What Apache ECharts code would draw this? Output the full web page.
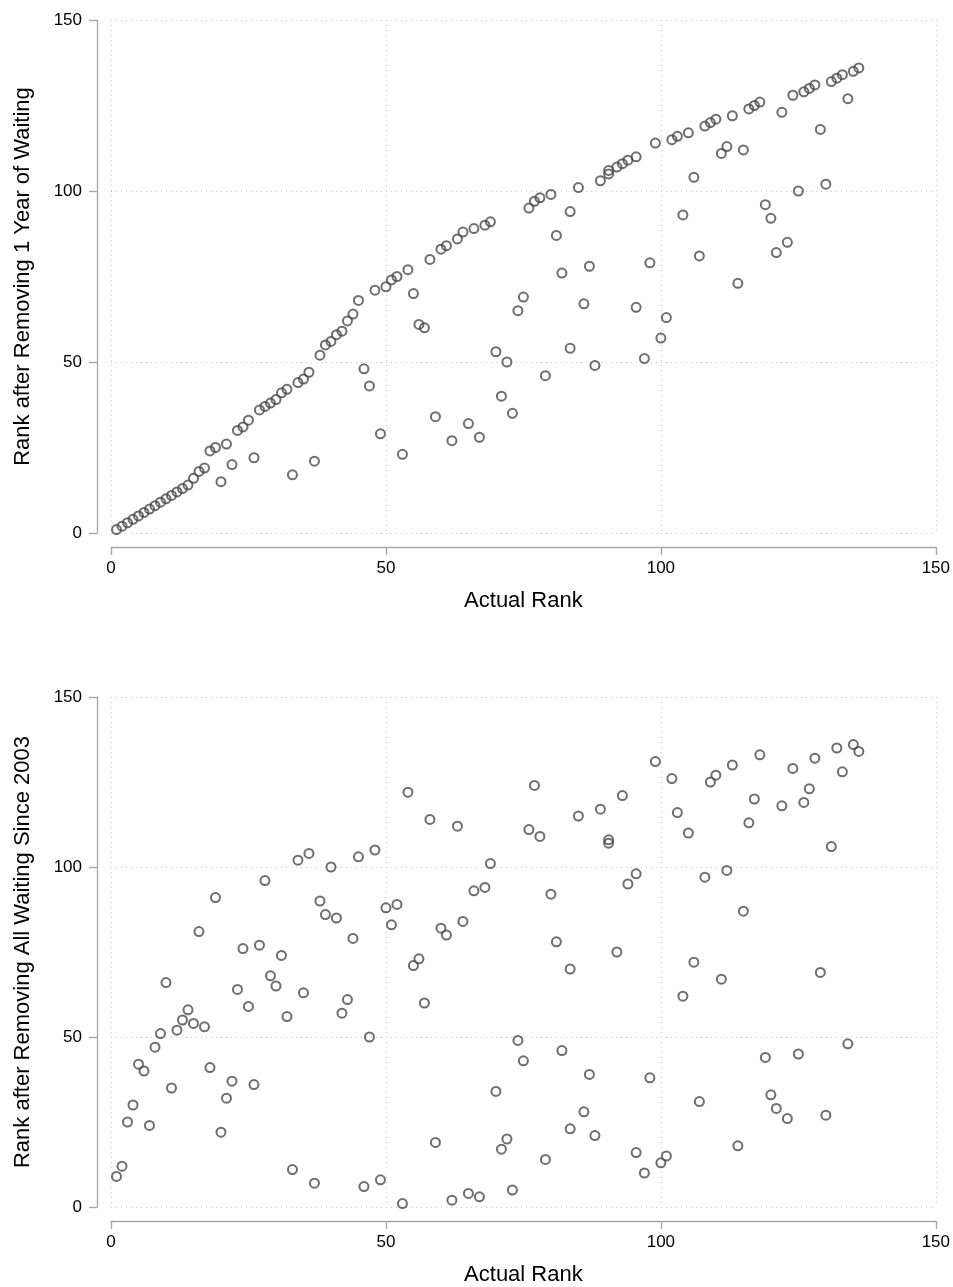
<!DOCTYPE html>
<html>
<head>
<meta charset="utf-8">
<script src="https://cdn.jsdelivr.net/npm/echarts@6/dist/echarts.min.js"></script>
<style>
  html, body { margin: 0; padding: 0; background: #fff; }
  #chart { width: 953px; height: 1287px; }
</style>
</head>
<body>
<div id="chart"></div>
<script>
// actual rank (ties averaged: 83.5, 90.5, 95.5 appear twice)
var actualRank = [
  1,2,3,4,5,6,7,8,9,10,11,12,13,14,15,16,17,18,19,20,
  21,22,23,24,25,26,27,28,29,30,31,32,33,34,35,36,37,38,39,40,
  41,42,43,44,45,46,47,48,49,50,51,52,53,54,55,56,57,58,59,60,
  61,62,63,64,65,66,67,68,69,70,71,72,73,74,75,76,77,78,79,80,
  81,82,83.5,83.5,85,86,87,88,89,90.5,90.5,92,93,94,95.5,95.5,97,98,99,100,
  101,102,103,104,105,106,107,108,109,110,111,112,113,114,115,116,117,118,119,120,
  121,122,123,124,125,126,127,128,129,130,131,132,133,134,135,136
];

var rankOneYear = [
  1,2,3,4,5,6,7,8,9,10,11,12,13,14,16,18,19,24,25,15,
  26,20,30,31,33,22,36,37,38,39,41,42,17,44,45,47,21,52,55,56,
  58,59,62,64,68,48,43,71,29,72,74,75,23,77,70,61,60,80,34,83,
  84,27,86,88,32,89,28,90,91,53,40,50,35,65,69,95,97,98,46,99,
  87,76,94,54,101,67,78,49,103,105,106,107,108,109,110,66,51,79,114,57,
  63,115,116,93,117,104,81,119,120,121,111,113,122,73,112,124,125,126,96,92,
  82,123,85,128,100,129,130,131,118,102,132,133,134,127,135,136
];

var rankAllWaiting = [
  9,12,25,30,42,40,24,47,51,66,35,52,55,58,54,81,53,41,91,22,
  32,37,64,76,59,36,77,96,68,65,74,56,11,102,63,104,7,90,86,100,
  85,57,61,79,103,6,50,105,8,88,83,89,1,122,71,73,60,114,19,82,
  80,2,112,84,4,93,3,94,101,34,17,20,5,49,43,111,124,109,14,92,
  78,46,70,23,115,28,39,21,117,108,107,75,121,95,98,16,10,38,131,13,
  15,126,116,62,110,72,31,97,125,127,67,99,130,18,87,113,120,133,44,33,
  29,118,26,129,45,119,123,132,69,27,106,135,128,48,136,134
];

var titleOne = 'Rank after Removing 1 Year of Waiting';
var titleAll = 'Rank after Removing All Waiting Since 2003';
var titleX = 'Actual Rank';

function pairs(ys) {
  return actualRank.map(function (x, i) { return [x, ys[i]]; });
}

var fontFam = '"Liberation Sans", Arial, Helvetica, sans-serif';
var gridLine = { show: true, lineStyle: { color: '#c8c8c8', type: [1, 4], width: 1 } };
var axLine = { show: true, onZero: false, lineStyle: { color: '#a8a8a8', width: 1.4 } };
var axTick = { show: true, length: 8, inside: false, lineStyle: { color: '#a8a8a8', width: 1.4 } };

function makeX(gi) {
  return {
    gridIndex: gi, type: 'value', min: 0, max: 150, interval: 50,
    offset: 14,
    name: titleX, nameLocation: 'middle', nameGap: 43, nameMoveOverlap: false,
    nameTextStyle: { color: '#000', fontSize: 22, fontFamily: fontFam },
    axisLine: axLine, axisTick: axTick, splitLine: gridLine,
    axisLabel: { color: '#000', fontSize: 17, fontFamily: fontFam, margin: 13 }
  };
}

function makeY(gi, title) {
  return {
    gridIndex: gi, type: 'value', min: 0, max: 150, interval: 50,
    offset: 14,
    name: title, nameLocation: 'middle', nameGap: 63, nameRotate: 90, nameMoveOverlap: false,
    nameTextStyle: { color: '#000', fontSize: 22, fontFamily: fontFam },
    axisLine: axLine, axisTick: axTick, splitLine: gridLine,
    axisLabel: { color: '#000', fontSize: 17, fontFamily: fontFam, margin: 15 }
  };
}

function makeSeries(gi, ys) {
  return {
    type: 'scatter', xAxisIndex: gi, yAxisIndex: gi,
    data: pairs(ys),
    symbol: 'circle', symbolSize: 9,
    itemStyle: { color: 'rgba(0,0,0,0)', borderColor: '#4a4a4a', borderWidth: 2 },
    emphasis: { disabled: true },
    silent: true
  };
}

var option = {
  animation: false,
  backgroundColor: '#fff',
  grid: [
    { left: 111, right: 17, top: 20, height: 513 },
    { left: 111, right: 17, top: 697, height: 513 }
  ],
  xAxis: [makeX(0), makeX(1)],
  yAxis: [makeY(0, titleOne), makeY(1, titleAll)],
  series: [makeSeries(0, rankOneYear), makeSeries(1, rankAllWaiting)]
};

var myChart = echarts.init(document.getElementById('chart'));
myChart.setOption(option);
</script>
</body>
</html>
